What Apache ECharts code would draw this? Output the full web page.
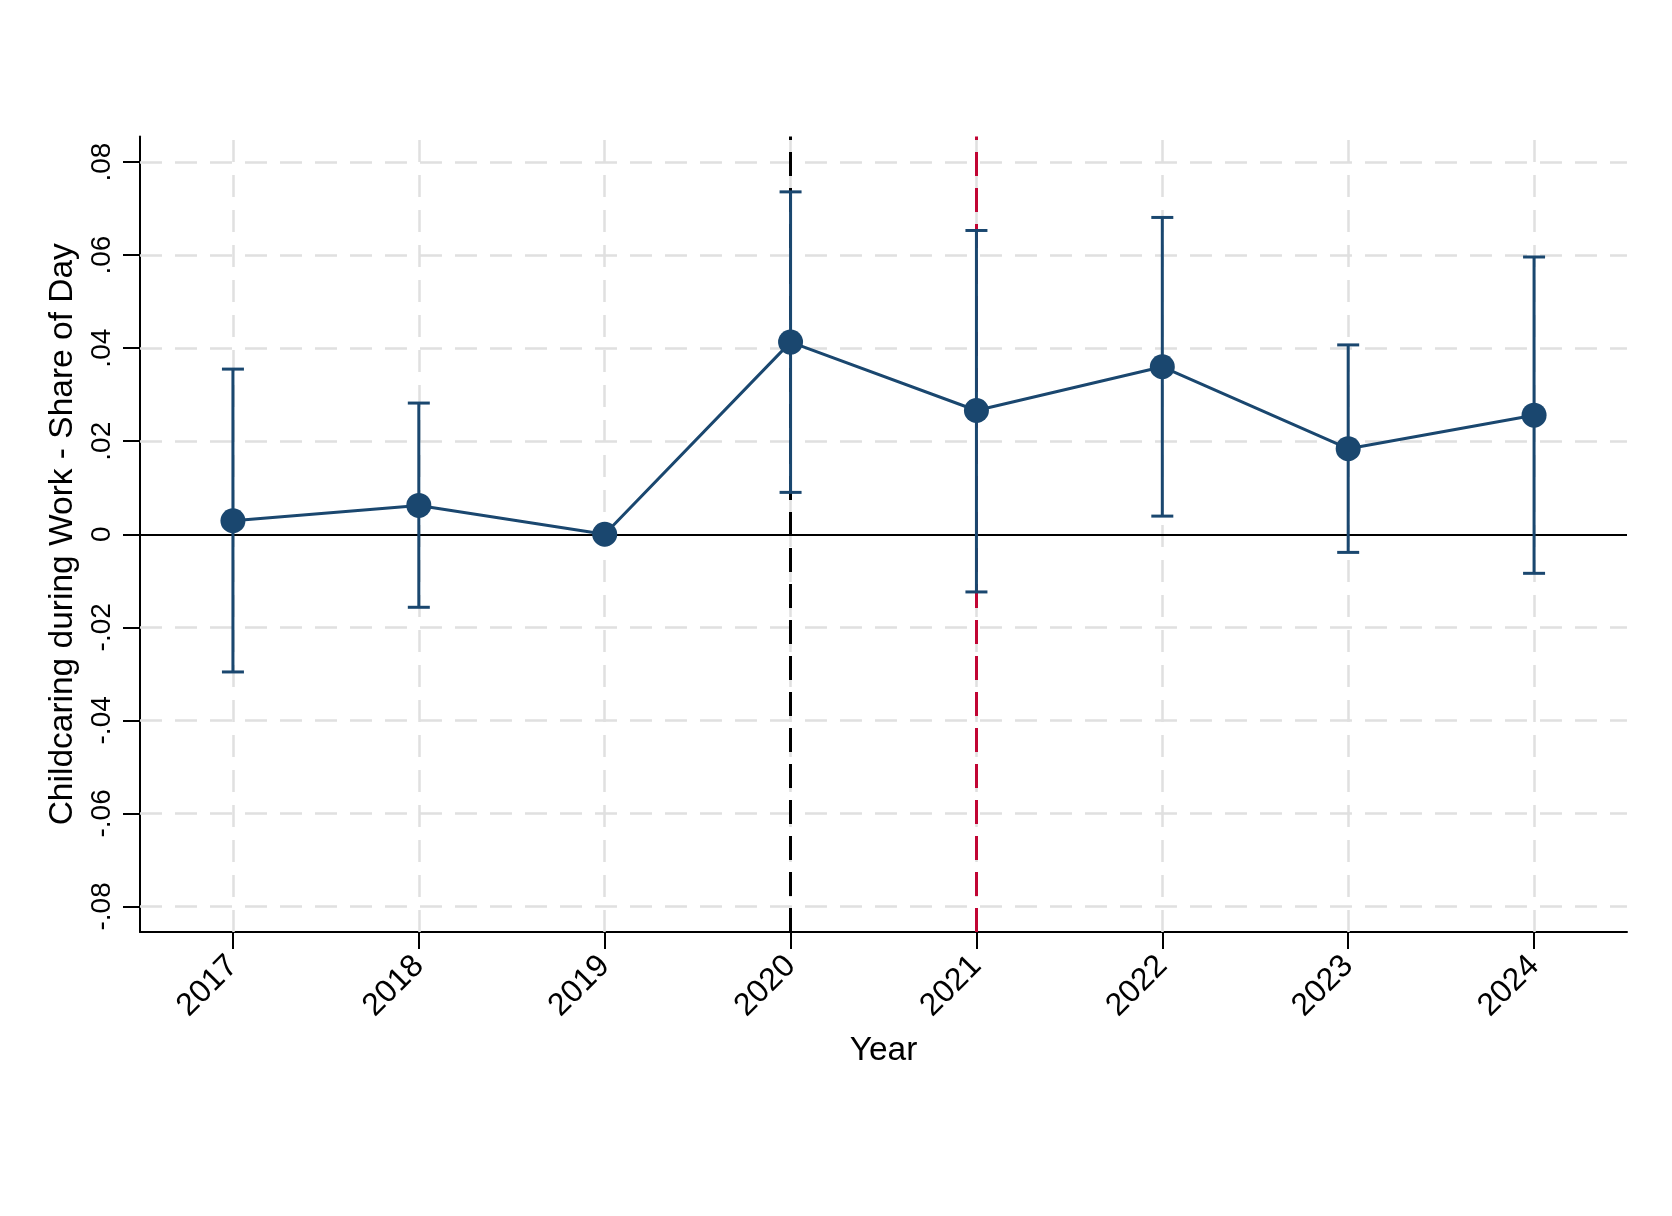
<!DOCTYPE html>
<html><head><meta charset="utf-8">
<script src="https://cdn.jsdelivr.net/npm/echarts@6/dist/echarts.min.js"></script>
<style>html,body{margin:0;padding:0;background:#fff}#c{width:1672px;height:1216px}</style>
</head><body><div id="c"></div>
<script>
const years = [2017, 2018, 2019, 2020, 2021, 2022, 2023, 2024];
const coef = [0.0029, 0.0062, 0, 0.0413, 0.0266, 0.0360, 0.0184, 0.0256];
const ciLow = [-0.0296, -0.0157, null, 0.0090, -0.0124, 0.0039, -0.0039, -0.0084];
const ciHigh = [0.0355, 0.0282, null, 0.0736, 0.0653, 0.0681, 0.0407, 0.0596];
const yTicks = [-0.08, -0.06, -0.04, -0.02, 0, 0.02, 0.04, 0.06, 0.08];
const yTickLabels = ['-.08', '-.06', '-.04', '-.02', '0', '.02', '.04', '.06', '.08'];
const eventLines = [{year: 2020, color: '#000000'}, {year: 2021, color: '#c10534'}];

const NAVY = '#1a476f';
const GRID = '#e0e0e0';
const FONT = 'Liberation Sans';

function yLabel(v) {
  for (let i = 0; i < yTicks.length; i++) if (Math.abs(yTicks[i] - v) < 1e-9) return yTickLabels[i];
  return '';
}

const chart = echarts.init(document.getElementById('c'), null, {renderer: 'canvas'});
const ciData = years.map((y, i) => [y, ciLow[i], ciHigh[i]]).filter(d => d[1] !== null);

chart.setOption({
  backgroundColor: '#ffffff',
  animation: false,
  grid: {left: 140, right: 45, top: 136.5, bottom: 284, containLabel: false},
  xAxis: {
    type: 'value', min: 2016.5, max: 2024.5,
    name: 'Year', nameLocation: 'middle', nameGap: 102,
    nameTextStyle: {fontFamily: FONT, fontSize: 33.5, color: '#000'},
    axisLine: {show: true, onZero: false, lineStyle: {color: '#000', width: 2}},
    axisTick: {show: true, customValues: years, length: 17, lineStyle: {color: '#000', width: 2}},
    axisLabel: {show: true, customValues: years, rotate: 45, margin: 29, fontFamily: FONT, fontSize: 32, color: '#000',
      formatter: v => String(v)},
    splitLine: {show: false}
  },
  yAxis: {
    type: 'value', min: -0.0855, max: 0.0855,
    name: 'Childcaring during Work - Share of Day', nameLocation: 'middle', nameGap: 52, nameRotate: 90,
    nameTextStyle: {fontFamily: FONT, fontSize: 33.5, color: '#000'},
    axisLine: {show: true, onZero: false, lineStyle: {color: '#000', width: 2}},
    axisTick: {show: true, customValues: yTicks, length: 17, lineStyle: {color: '#000', width: 2}},
    axisLabel: {show: true, customValues: yTicks, rotate: 90, margin: 24, fontFamily: FONT, fontSize: 28, color: '#000',
      formatter: v => yLabel(v)},
    splitLine: {show: false}
  },
  series: [
    {
      type: 'line', data: [], silent: true, z: 1,
      markLine: {
        z: 1, silent: true, symbol: 'none', label: {show: false}, animation: false,
        lineStyle: {color: GRID, width: 2.5, type: [22, 13]},
        data: yTicks.filter(v => v !== 0).map(v => ({yAxis: v})).concat(years.map(y => ({xAxis: y})))
      }
    },
    {
      type: 'line', data: [], silent: true, z: 2,
      markLine: {
        z: 2, silent: true, symbol: 'none', label: {show: false}, animation: false,
        data: [{yAxis: 0, lineStyle: {color: '#000', width: 2, type: 'solid'}}].concat(
          eventLines.map(e => ({xAxis: e.year, lineStyle: {color: e.color, width: 3, type: [24, 12]}})))
      }
    },
    {
      type: 'custom', z: 3, silent: true,
      data: ciData,
      renderItem: function (params, api) {
        const x = api.value(0);
        const top = api.coord([x, api.value(2)]);
        const bot = api.coord([x, api.value(1)]);
        const hw = 11;
        const st = {stroke: NAVY, lineWidth: 3};
        return {type: 'group', children: [
          {type: 'line', shape: {x1: top[0], y1: top[1], x2: bot[0], y2: bot[1]}, style: st},
          {type: 'line', shape: {x1: top[0] - hw, y1: top[1], x2: top[0] + hw, y2: top[1]}, style: st},
          {type: 'line', shape: {x1: bot[0] - hw, y1: bot[1], x2: bot[0] + hw, y2: bot[1]}, style: st}
        ]};
      }
    },
    {
      type: 'line', z: 4, silent: true,
      data: years.map((y, i) => [y, coef[i]]),
      symbol: 'circle', symbolSize: 25,
      lineStyle: {color: NAVY, width: 3},
      itemStyle: {color: NAVY}
    }
  ]
});
</script>
</body></html>
